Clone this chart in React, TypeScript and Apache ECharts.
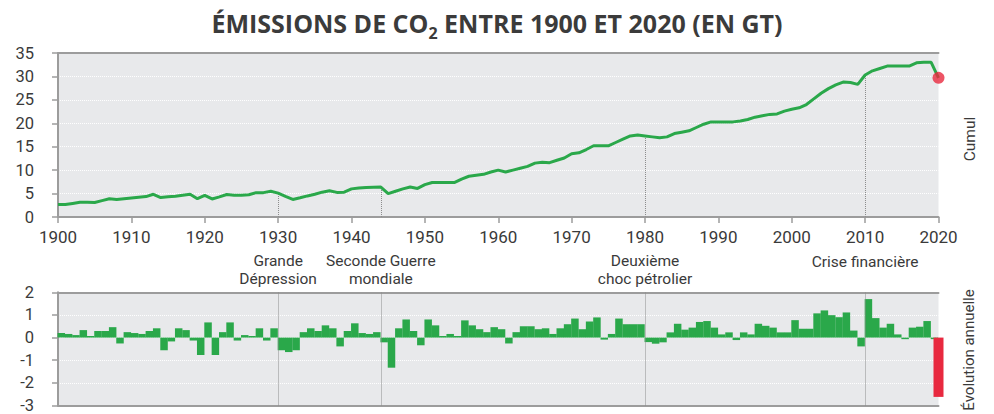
import React, { useEffect, useRef } from 'react';
import * as echarts from 'echarts';

const years = [
  1900, 1901, 1902, 1903, 1904, 1905, 1906, 1907, 1908, 1909,
  1910, 1911, 1912, 1913, 1914, 1915, 1916, 1917, 1918, 1919,
  1920, 1921, 1922, 1923, 1924, 1925, 1926, 1927, 1928, 1929,
  1930, 1931, 1932, 1933, 1934, 1935, 1936, 1937, 1938, 1939,
  1940, 1941, 1942, 1943, 1944, 1945, 1946, 1947, 1948, 1949,
  1950, 1951, 1952, 1953, 1954, 1955, 1956, 1957, 1958, 1959,
  1960, 1961, 1962, 1963, 1964, 1965, 1966, 1967, 1968, 1969,
  1970, 1971, 1972, 1973, 1974, 1975, 1976, 1977, 1978, 1979,
  1980, 1981, 1982, 1983, 1984, 1985, 1986, 1987, 1988, 1989,
  1990, 1991, 1992, 1993, 1994, 1995, 1996, 1997, 1998, 1999,
  2000, 2001, 2002, 2003, 2004, 2005, 2006, 2007, 2008, 2009,
  2010, 2011, 2012, 2013, 2014, 2015, 2016, 2017, 2018, 2019,
  2020,
];

// Émissions annuelles (Gt)
const emissions = [
  2.65, 2.65, 2.9, 3.15, 3.15, 3.1, 3.5, 3.9, 3.75, 3.9,
  4.05, 4.2, 4.35, 4.85, 4.15, 4.3, 4.45, 4.65, 4.85, 3.9,
  4.6, 3.85, 4.3, 4.8, 4.65, 4.65, 4.75, 5.2, 5.2, 5.5,
  5.1, 4.4, 3.75, 4.1, 4.5, 4.85, 5.3, 5.6, 5.25, 5.3,
  6.0, 6.2, 6.3, 6.35, 6.4, 5.0, 5.5, 6.0, 6.4, 6.1,
  6.9, 7.35, 7.35, 7.35, 7.35, 8.1, 8.7, 8.9, 9.1, 9.6,
  10.0, 9.6, 10.0, 10.4, 10.8, 11.5, 11.7, 11.6, 12.1, 12.6,
  13.5, 13.7, 14.4, 15.2, 15.2, 15.2, 15.9, 16.6, 17.3, 17.5,
  17.3, 17.1, 16.9, 17.1, 17.8, 18.1, 18.4, 19.1, 19.8, 20.3,
  20.3, 20.3, 20.3, 20.5, 20.8, 21.3, 21.6, 21.9, 22.0, 22.6,
  23.0, 23.3, 24.0, 25.2, 26.4, 27.4, 28.2, 28.8, 28.7, 28.3,
  30.3, 31.2, 31.7, 32.2, 32.2, 32.2, 32.2, 32.9, 33.0, 33.0,
  29.7,
];

// Évolution annuelle (Gt)
const annualChange = [
  0.2, 0.16, 0.11, 0.33, 0.07, 0.29, 0.29, 0.46, -0.26, 0.24,
  0.2, 0.16, 0.29, 0.41, -0.56, -0.17, 0.41, 0.33, -0.13, -0.77,
  0.67, -0.77, 0.24, 0.67, -0.13, 0.11, 0.07, 0.41, -0.13, 0.41,
  -0.56, -0.64, -0.56, 0.24, 0.41, 0.29, 0.54, 0.41, -0.39, 0.29,
  0.63, 0.2, 0.16, 0.24, -0.21, -1.33, 0.41, 0.8, 0.29, -0.34,
  0.8, 0.54, 0.07, 0.16, 0.07, 0.76, 0.54, 0.37, 0.24, 0.46,
  0.37, -0.26, 0.24, 0.5, 0.5, 0.37, 0.41, 0.16, 0.41, 0.59,
  0.84, 0.37, 0.71, 0.89, -0.09, 0.16, 0.84, 0.59, 0.59, 0.59,
  -0.2, -0.27, -0.21, 0.23, 0.61, 0.35, 0.44, 0.69, 0.73, 0.44,
  0.14, 0.23, -0.11, 0.23, 0.14, 0.61, 0.52, 0.44, 0.23, 0.23,
  0.77, 0.39, 0.39, 1.07, 1.2, 0.99, 0.9, 1.11, 0.31, -0.39,
  1.7, 0.86, 0.44, 0.61, 0.14, -0.07, 0.44, 0.48, 0.73, -0.07,
  -2.62,
];

const eventYears = [1930, 1944, 1980, 2010];
const eventLabels = [
  'Grande\nDépression',
  'Seconde Guerre\nmondiale',
  'Deuxième\nchoc pétrolier',
  'Crise financière',
];

const topTicks = [0, 35, 5];
const bottomTicks = [-3, 2, 1];

const GREEN = '#2aa84a';
const RED = '#e8293f';
const AXIS = '#9c9c9c';
const TEXT = '#3a3a3a';
const BG = '#e8e9eb';
const NARROW = 'Roboto, sans-serif';

export default function App() {
  const ref = useRef<HTMLDivElement>(null);

  useEffect(() => {
    if (!ref.current) return;
    const chart = echarts.init(ref.current, undefined, { renderer: 'svg' });

    const lastIdx = years.length - 1;
    const lineData = years.map((y, i) => [y, emissions[i]]);
    const greenBars = years.slice(0, lastIdx).map((y, i) => [y + 0.45, annualChange[i]]);
    const redBar = [[years[lastIdx], annualChange[lastIdx]]];

    const topMarks = eventYears.map((y) => [
      { coord: [y, 0] },
      { coord: [y, emissions[years.indexOf(y)]] },
    ]);
    const bottomMarks = eventYears.map((y, i) => ({
      xAxis: y,
      label: {
        formatter: eventLabels[i],
        distance: eventLabels[i].includes('\n') ? 5 : 22,
      },
    }));

    const xLabel = { fontFamily: NARROW, fontSize: 17, color: TEXT };
    const yLabel = { fontFamily: NARROW, fontSize: 16.5, color: TEXT };
    const xBase = { type: 'value' as const, min: years[0], max: years[lastIdx], interval: 10 };

    chart.setOption({
      animation: false,
      title: {
        text: '{a|ÉMISSIONS DE CO}{b|2}{a| ENTRE 1900 ET 2020 (EN GT)}',
        left: 'center',
        top: 5,
        padding: 0,
        textStyle: {
          rich: {
            a: { fontFamily: '"Open Sans", sans-serif', fontWeight: 'bold', fontSize: 25, lineHeight: 36, color: '#3b3b3b' },
            b: { fontFamily: '"Open Sans", sans-serif', fontWeight: 'bold', fontSize: 16, lineHeight: 16, verticalAlign: 'bottom', color: '#3b3b3b' },
          },
        },
      },
      grid: [
        { left: 58, top: 53, width: 880.5, height: 164, show: true, backgroundColor: BG, borderWidth: 0 },
        { left: 58, top: 292.3, width: 880.5, height: 116.4, show: true, backgroundColor: BG, borderWidth: 0 },
      ],
      xAxis: [
        {
          ...xBase, gridIndex: 0, position: 'bottom',
          axisLine: { show: true, lineStyle: { color: AXIS, width: 2 } },
          axisTick: { show: true, length: 6, lineStyle: { color: AXIS, width: 1.5 } },
          axisLabel: { ...xLabel, margin: 11, showMinLabel: true, showMaxLabel: true, formatter: (v: number) => String(v) },
          splitLine: { show: false },
        },
        {
          ...xBase, gridIndex: 0, position: 'top',
          axisLine: { show: true, lineStyle: { color: AXIS, width: 2 } },
          axisTick: { show: false }, axisLabel: { show: false }, splitLine: { show: false },
        },
        {
          ...xBase, gridIndex: 1, position: 'bottom',
          axisLine: { show: true, onZero: false, lineStyle: { color: AXIS, width: 2 } },
          axisTick: { show: false }, axisLabel: { show: false }, splitLine: { show: false },
        },
        {
          ...xBase, gridIndex: 1, position: 'top',
          axisLine: { show: true, onZero: false, lineStyle: { color: AXIS, width: 2 } },
          axisTick: { show: false }, axisLabel: { show: false }, splitLine: { show: false },
        },
      ],
      yAxis: [
        {
          type: 'value', gridIndex: 0, min: topTicks[0], max: topTicks[1], interval: topTicks[2],
          axisLine: { show: true, lineStyle: { color: AXIS, width: 2 } },
          axisTick: { show: true, length: 6, lineStyle: { color: AXIS, width: 1.5 } },
          axisLabel: { ...yLabel, margin: 24 },
          splitLine: { show: true, lineStyle: { color: '#ffffff', type: 'dotted', width: 1 } },
        },
        {
          type: 'value', gridIndex: 1, min: bottomTicks[0], max: bottomTicks[1], interval: bottomTicks[2],
          axisLine: { show: true, onZero: false, lineStyle: { color: AXIS, width: 2 } },
          axisTick: { show: true, length: 6, lineStyle: { color: AXIS, width: 1.5 } },
          axisLabel: { ...yLabel, margin: 24 },
          splitLine: { show: true, lineStyle: { color: '#ffffff', type: 'dotted', width: 1 } },
        },
      ],
      series: [
        {
          type: 'line', xAxisIndex: 0, yAxisIndex: 0, data: lineData,
          symbol: 'none', lineStyle: { color: GREEN, width: 3 }, z: 3,
          markLine: {
            silent: true, symbol: 'none', label: { show: false },
            lineStyle: { color: '#8c8c8c', type: 'dotted', width: 1 },
            data: topMarks, z: 1,
          },
        },
        {
          type: 'scatter', xAxisIndex: 0, yAxisIndex: 0,
          data: [[years[lastIdx], emissions[lastIdx]]],
          symbolSize: 12, itemStyle: { color: RED }, z: 5,
        },
        {
          type: 'bar', xAxisIndex: 2, yAxisIndex: 1, data: greenBars,
          barWidth: 7.5, itemStyle: { color: GREEN },
          markLine: {
            silent: true, symbol: 'none',
            lineStyle: { color: '#8c8c8c', type: 'dotted', width: 1 },
            label: { show: true, position: 'end', fontFamily: NARROW, fontSize: 15.5, lineHeight: 17.5, color: TEXT },
            data: bottomMarks,
          },
        },
        {
          type: 'bar', xAxisIndex: 3, yAxisIndex: 1, data: redBar,
          barWidth: 10, itemStyle: { color: RED }, z: 4,
        },
      ],
      graphic: [
        {
          type: 'text', x: 970, y: 139, rotation: Math.PI / 2,
          style: { text: 'Cumul', fontFamily: NARROW, fontSize: 15.5, fill: TEXT, align: 'center', verticalAlign: 'middle' },
        },
        {
          type: 'text', x: 969, y: 350, rotation: Math.PI / 2,
          style: { text: 'Évolution annuelle', fontFamily: NARROW, fontSize: 15, fill: TEXT, align: 'center', verticalAlign: 'middle' },
        },
      ],
    });

    return () => chart.dispose();
  }, []);

  return <div ref={ref} style={{ position: 'fixed', left: 0, top: 0, width: 994, height: 414, background: '#ffffff' }} />;
}
